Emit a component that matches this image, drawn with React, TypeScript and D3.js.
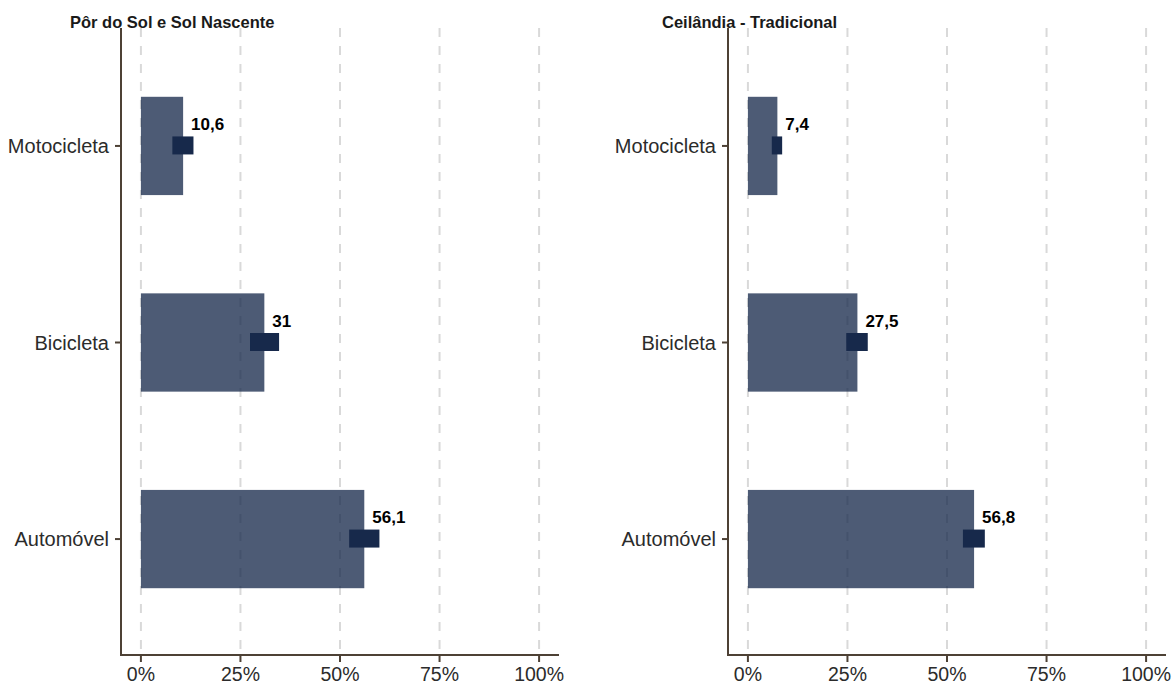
import React from "react";
import * as d3 from "d3";

const categories = ["Motocicleta", "Bicicleta", "Automóvel"];
const panelTitles = ["Pôr do Sol e Sol Nascente", "Ceilândia - Tradicional"];
const valuesA = [10.6, 31, 56.1];
const lowA = [7.9, 27.4, 52.3];
const highA = [13.2, 34.7, 59.9];
const valuesB = [7.4, 27.5, 56.8];
const lowB = [6.0, 24.7, 54.0];
const highB = [8.6, 30.1, 59.5];
const xTicks = [0, 25, 50, 75, 100];

const panels = [
  { title: panelTitles[0], values: valuesA, low: lowA, high: highA, x0: 121, titleX: 70 },
  { title: panelTitles[1], values: valuesB, low: lowB, high: highB, x0: 728, titleX: 662 },
];

const W = 1173;
const H = 685;
const panelW = 438;
const top = 28;
const bottom = 655;
const font = "'Liberation Sans', Arial, Helvetica, sans-serif";
const axisColor = "#4d4135";
const navy = "#17294b";

function Panel({ p }: { p: typeof panels[0] }) {
  const x = d3.scaleLinear().domain([-5, 105]).range([p.x0, p.x0 + panelW]);
  const y = d3
    .scalePoint<string>()
    .domain([...categories])
    .range([top, bottom + 2])
    .padding(0.6);
  const step = y.step();
  const barH = step * 0.5;
  const fmt = (v: number) => String(v).replace(".", ",");
  return (
    <g>
      <text x={p.titleX} y={27.5} fontFamily={font} fontWeight="bold" fontSize={16.5} fill="#1a1a1a">
        {p.title}
      </text>
      {xTicks.map((t) => (
        <line
          key={"g" + t}
          x1={x(t)}
          x2={x(t)}
          y1={top}
          y2={bottom}
          stroke="#d9d9d9"
          strokeWidth={2}
          strokeDasharray="9,9"
        />
      ))}
      {categories.map((c, i) => (
        <rect
          key={"b" + c}
          x={x(0)}
          y={(y(c) as number) - barH / 2}
          width={x(p.values[i]) - x(0)}
          height={barH}
          fill={navy}
          fillOpacity={0.77}
        />
      ))}
      {categories.map((c, i) => (
        <rect
          key={"m" + c}
          x={x(p.low[i])}
          y={(y(c) as number) - 9.5}
          width={x(p.high[i]) - x(p.low[i])}
          height={18}
          fill={navy}
        />
      ))}
      {categories.map((c, i) => (
        <text
          key={"l" + c}
          x={x(p.values[i]) + 8}
          y={(y(c) as number) - 16}
          fontFamily={font}
          fontWeight="bold"
          fontSize={17}
          fill="#000"
        >
          {fmt(p.values[i])}
        </text>
      ))}
      <line x1={p.x0} x2={p.x0} y1={top} y2={bottom} stroke={axisColor} strokeWidth={2} />
      <line x1={p.x0 - 1} x2={p.x0 + panelW} y1={bottom} y2={bottom} stroke={axisColor} strokeWidth={2} />
      {categories.map((c) => (
        <g key={"yt" + c}>
          <line x1={p.x0 - 6} x2={p.x0} y1={y(c)} y2={y(c)} stroke={axisColor} strokeWidth={2} />
          <text
            x={p.x0 - 12}
            y={y(c)}
            dy="0.35em"
            textAnchor="end"
            fontFamily={font}
            fontSize={20}
            fill="#2b2b2b"
          >
            {c}
          </text>
        </g>
      ))}
      {xTicks.map((t) => (
        <g key={"xt" + t}>
          <line x1={x(t)} x2={x(t)} y1={bottom} y2={bottom + 7} stroke={axisColor} strokeWidth={2} />
          <text
            x={x(t)}
            y={bottom + 26}
            textAnchor="middle"
            fontFamily={font}
            fontSize={19.5}
            fill="#2b2b2b"
          >
            {t + "%"}
          </text>
        </g>
      ))}
    </g>
  );
}

export default function App() {
  return (
    <svg
      width={W}
      height={H}
      style={{ position: "absolute", left: 0, top: 0, background: "#fff" }}
    >
      <rect x={0} y={0} width={W} height={H} fill="#fff" />
      {panels.map((p) => (
        <Panel key={p.title} p={p} />
      ))}
    </svg>
  );
}
